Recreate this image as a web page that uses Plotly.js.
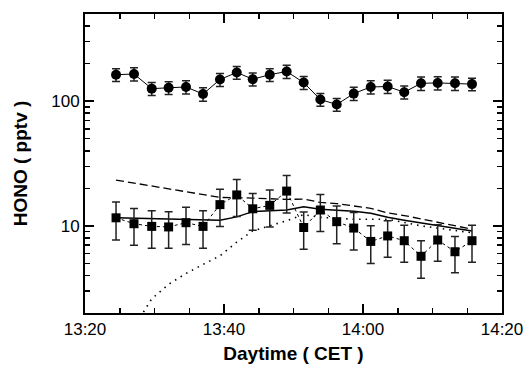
<!DOCTYPE html>
<html>
<head>
<meta charset="utf-8">
<script src="https://cdn.plot.ly/plotly-3.0.1.min.js"></script>
<style>html,body{margin:0;padding:0;background:#fff;}#chart{width:526px;height:374px;}</style>
</head>
<body>
<div id="chart"></div>
<script>
// Measurement times (CET)
var times = ['13:24:28','13:27:03','13:29:36','13:32:02','13:34:32','13:36:59','13:39:25','13:41:50',
             '13:44:08','13:46:35','13:49:01','13:51:28','13:53:52','13:56:13','13:58:40','14:01:07',
             '14:03:33','14:05:56','14:08:21','14:10:45','14:13:14','14:15:41'];
// Upper series (circles), HONO pptv
var circleVals = [163,165,126,128,130,114,149,170,150,163,173,141,103,94,115,130,131,118,139,140,139,137];
var circleErr  = [19,20,15,15,16,14,18,20,18,19,21,17,12,11,14,16,16,14,17,17,17,16];
// Lower series (squares), HONO pptv
var squareVals = [11.6,10.4,9.9,9.8,10.6,9.9,14.8,17.7,13.7,14.6,19.0,9.7,13.4,10.8,9.6,7.5,8.3,7.6,5.7,7.7,6.2,7.6];
var squareErr  = [3.9,3.4,3.3,3.2,3.5,3.3,4.9,5.8,4.5,4.8,6.3,3.2,4.4,3.6,3.2,2.5,2.7,2.5,1.9,2.5,2.0,2.5];
// Model curves (vertex time indices and values)
var solidIdx  = [0,6,7,8,10,11,12,14,15,16,17,21];
var solidVals = [11.6,11.1,11.8,13.0,13.4,14.2,13.6,13.1,12.6,11.7,11.1,9.1];
var dashIdx   = [0,6,8,10,11,12,13,14,15,16,17,21];
var dashVals  = [23.3,16.9,16.7,16.3,16.4,15.4,15.1,14.4,13.8,12.7,12.1,9.4];
var dotIdx    = [0,1,2,3,4,5,6,7,8,9,10,11,12,14,16,18,21];
var dotVals   = [0.9,1.55,2.6,3.4,4.15,4.9,5.75,7.4,9.1,10.0,11.0,12.3,11.7,11.3,11.3,10.0,8.8];
// Axis ticks
var xTickFormat = '%H:%M';
var yTickVals = [10,100];
var yTickText = ['10','100'];
var yMinorVals = [2,3,4,5,6,7,8,9,20,30,40,50,60,70,80,90,200,300,400];

var day = '2000-01-01 ';
function toX(arr){ return arr.map(function(t){ return day + t; }); }
function pick(idx){ return idx.map(function(i){ return day + times[i]; }); }

var font = 'Liberation Sans, Arial, Helvetica, sans-serif';
var errStyle = {type:'data', visible:true, color:'#222', thickness:1.5, width:4};

var traces = [
  {x: pick(dotIdx), y: dotVals, mode:'lines', line:{color:'#000', width:1.6, dash:'1.5px,5px'}, hoverinfo:'skip'},
  {x: pick(dashIdx), y: dashVals, mode:'lines', line:{color:'#000', width:1.3, dash:'8px,4px'}, hoverinfo:'skip'},
  {x: pick(solidIdx), y: solidVals, mode:'lines', line:{color:'#000', width:1.5}, hoverinfo:'skip'},
  {x: toX(times), y: squareVals, mode:'lines+markers',
   line:{color:'#000', width:1, dash:'dot'},
   marker:{symbol:'square', size:9, color:'#000'},
   error_y: Object.assign({array: squareErr}, errStyle)},
  {x: toX(times), y: circleVals, mode:'lines+markers',
   line:{color:'#000', width:1},
   marker:{symbol:'circle', size:10, color:'#000'},
   error_y: Object.assign({array: circleErr}, errStyle)}
];

var layout = {
  width:526, height:374,
  margin:{l:85, r:24, t:14, b:61},
  paper_bgcolor:'#fff', plot_bgcolor:'#fff',
  showlegend:false,
  font:{family:font, color:'#000', size:17},
  xaxis:{
    type:'date',
    range:[day+'13:20', day+'14:20'],
    tick0: day+'13:20', dtick: 1200000,
    tickformat: xTickFormat,
    ticks:'inside', ticklen:9, tickwidth:2, tickcolor:'#000',
    mirror:'allticks', showline:true, linewidth:2, linecolor:'#000',
    showgrid:false, zeroline:false,
    minor:{dtick:300000, tick0: day+'13:20', ticks:'inside', ticklen:5, tickwidth:1.5, tickcolor:'#000', showgrid:false},
    tickfont:{size:17, family:font},
    title:{text:'<b>Daytime ( CET )</b>', font:{size:19, family:font}, standoff:8}
  },
  yaxis:{
    type:'log',
    range:[Math.log10(2), Math.log10(500)],
    tickmode:'array', tickvals:yTickVals, ticktext:yTickText,
    ticks:'inside', ticklen:9, tickwidth:2, tickcolor:'#000',
    mirror:'allticks', showline:true, linewidth:2, linecolor:'#000',
    showgrid:false, zeroline:false,
    minor:{tickmode:'array', tickvals:yMinorVals, ticks:'inside', ticklen:5, tickwidth:1.5, tickcolor:'#000', showgrid:false},
    tickfont:{size:17, family:font},
    title:{text:'<b>HONO ( pptv )</b>', font:{size:19, family:font}, standoff:19}
  }
};

Plotly.newPlot('chart', traces, layout, {displayModeBar:false, staticPlot:true});
</script>
</body>
</html>
